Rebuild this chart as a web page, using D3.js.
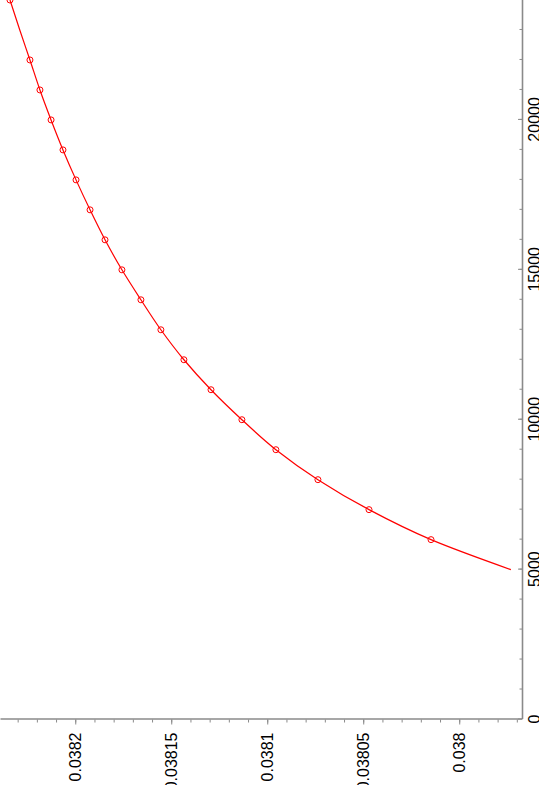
<!DOCTYPE html>
<html>
<head>
<meta charset="utf-8">
<script src="https://cdn.jsdelivr.net/npm/d3@7"></script>
<style>
  body { margin: 0; background: #fff; overflow: hidden; }
  text { font-family: "Liberation Sans", Arial, sans-serif; }
</style>
</head>
<body>
<script>
var width = 539,
    height = 785;

// curve samples
var curveX = [5000, 6000, 7000, 8000, 9000, 10000, 11000, 12000, 13000, 14000, 15000,
              16000, 17000, 18000, 19000, 20000, 21000, 22000, 23000, 24000];
var curveY = [0.0379731, 0.0380147, 0.0380470, 0.0380736, 0.0380955, 0.0381132, 0.0381293,
              0.0381434, 0.0381554, 0.0381658, 0.0381757, 0.0381845, 0.0381923, 0.0381996,
              0.0382064, 0.0382126, 0.0382184, 0.0382236, 0.0382289, 0.0382340];

// circle markers
var markX = [6000, 7000, 8000, 9000, 10000, 11000, 12000, 13000, 14000, 15000,
             16000, 17000, 18000, 19000, 20000, 21000, 22000, 24000];
var markY = [0.0380147, 0.0380470, 0.0380736, 0.0380955, 0.0381132, 0.0381293, 0.0381434,
             0.0381554, 0.0381658, 0.0381757, 0.0381845, 0.0381923, 0.0381996, 0.0382064,
             0.0382126, 0.0382184, 0.0382236, 0.0382340];

var xTicks = [0, 5000, 10000, 15000, 20000];
var xTickLabels = ["0", "5000", "10000", "15000", "20000"];
var yTicks = [0.038, 0.03805, 0.0381, 0.03815, 0.0382];
var yTickLabels = ["0.038", "0.03805", "0.0381", "0.03815", "0.0382"];

var xDomain = [0, 24000],
    yDomain = [0.0379673, 0.0382392];

var plotW = 719.5,   // length of the x axis (drawn upright)
    plotH = 522;     // length of the y axis

var svg = d3.select("body").append("svg")
    .attr("width", width)
    .attr("height", height);

// the chart is built upright and then turned a quarter turn counter-clockwise
var g = svg.append("g")
    .attr("transform", "translate(0," + plotW + ") rotate(-90)");

var x = d3.scaleLinear().domain(xDomain).range([0, plotW]);
var y = d3.scaleLinear().domain(yDomain).range([plotH, 0]);

var axisColor = "#8a8a8a";

function styleAxis(sel, showDomain) {
  sel.select(".domain")
    .attr("stroke", axisColor)
    .attr("stroke-width", 1.6)
    .style("display", showDomain ? null : "none");
  sel.selectAll(".tick line").attr("stroke", axisColor).attr("stroke-width", 1);
  sel.selectAll(".tick text")
    .attr("fill", "#000")
    .style("font-size", "16px");
}

// x axis: minor ticks, then major ticks with labels
g.append("g")
    .attr("transform", "translate(0," + plotH + ")")
    .call(d3.axisBottom(x).tickValues(d3.range(1000, 24001, 1000)).tickSize(-2.5).tickSizeOuter(0).tickFormat(""))
    .call(styleAxis, false);

g.append("g")
    .attr("transform", "translate(0," + plotH + ")")
    .call(d3.axisBottom(x)
      .tickValues(xTicks)
      .tickSize(-4)
      .tickSizeOuter(0)
      .tickPadding(7)
      .tickFormat(function(d, i) { return xTickLabels[i]; }))
    .call(styleAxis, true);

// y axis
g.append("g")
    .call(d3.axisLeft(y).tickValues(d3.range(0.03797, 0.03824, 0.00001)).tickSize(3).tickSizeOuter(0).tickFormat(""))
    .call(styleAxis, false);

g.append("g")
    .call(d3.axisLeft(y)
      .tickValues(yTicks)
      .tickSize(5)
      .tickSizeOuter(0)
      .tickPadding(8)
      .tickFormat(function(d, i) { return yTickLabels[i]; }))
    .call(styleAxis, true);

// curve
var line = d3.line()
    .x(function(d) { return x(d[0]); })
    .y(function(d) { return y(d[1]); })
    .curve(d3.curveMonotoneX);

g.append("path")
    .datum(d3.zip(curveX, curveY))
    .attr("fill", "none")
    .attr("stroke", "#ff0000")
    .attr("stroke-width", 1.2)
    .attr("d", line);

g.selectAll(".mark")
    .data(d3.zip(markX, markY))
  .enter().append("circle")
    .attr("class", "mark")
    .attr("cx", function(d) { return x(d[0]); })
    .attr("cy", function(d) { return y(d[1]); })
    .attr("r", 3)
    .attr("fill", "none")
    .attr("stroke", "#ff0000")
    .attr("stroke-width", 1);
</script>
</body>
</html>
